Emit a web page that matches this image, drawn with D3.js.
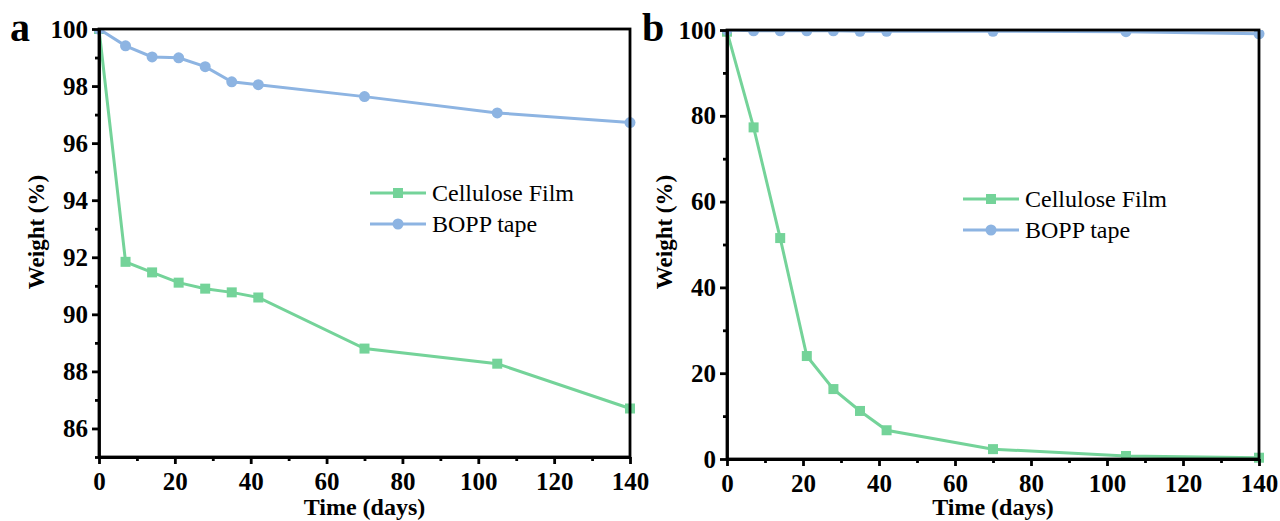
<!DOCTYPE html>
<html>
<head>
<meta charset="utf-8">
<script src="https://cdn.jsdelivr.net/npm/d3@7"></script>
<style>
  body { margin: 0; background: #fff; }
  text { font-family: "Liberation Serif", "Times New Roman", serif; }
</style>
</head>
<body>
<div id="chart"></div>
<script>
const canvas_w  =   1280;
const canvas_h  =   521;

// sampling days (shared by both panels)
const days          =   [ 0, 7, 14, 21, 28, 35, 42, 70, 105, 140 ];

// panel a values (weight %)
const a_cellulose   =   [ 100, 91.84, 91.47, 91.11, 90.90, 90.77, 90.59, 88.80, 88.27, 86.70 ];
const a_bopp        =   [ 100, 99.41, 99.02, 98.99, 98.68, 98.15, 98.05, 97.63, 97.06, 96.72 ];

// panel b values (weight %)
const b_cellulose   =   [ 99.6, 77.3, 51.5, 24.0, 16.3, 11.2, 6.7, 2.3, 0.7, 0.3 ];
const b_bopp        =   [ 100, 99.8, 99.8, 99.8, 99.8, 99.7, 99.7, 99.7, 99.6, 99.1 ];

const x_ticks       =   [ 0, 20, 40, 60, 80, 100, 120, 140 ];
const a_y_ticks     =   [ 86, 88, 90, 92, 94, 96, 98, 100 ];
const b_y_ticks     =   [ 0, 20, 40, 60, 80, 100 ];

const series_names  =   [ 'Cellulose Film', 'BOPP tape' ];
const green         =   '#74d399';
const blue          =   '#8db4e2';

let svg         =   d3.select( '#chart' )
                      .append( 'svg' )
                      .attr( 'width', canvas_w )
                      .attr( 'height', canvas_h );

function panel( opt ) {
    let x = d3.scaleLinear().domain( [ 0, 140 ] ).range( [ opt.left, opt.right ] );
    let y = d3.scaleLinear().domain( opt.ydomain ).range( [ opt.bottom, opt.top ] );

    let g = svg.append( 'g' );

    // clip for marks
    let clipId = 'clip-' + opt.letter;
    svg.append( 'clipPath' ).attr( 'id', clipId )
       .append( 'rect' )
       .attr( 'x', opt.left - 8 ).attr( 'y', opt.top )
       .attr( 'width', opt.right - opt.left + 16 ).attr( 'height', opt.bottom - opt.top + 8 );

    let marks = g.append( 'g' ).attr( 'clip-path', 'url(#' + clipId + ')' );

    let line = d3.line()
                 .x( (d, i) => x( days[i] ) )
                 .y( d => y( d ) );

    // cellulose (green squares)
    marks.append( 'path' )
         .attr( 'd', line( opt.cellulose ) )
         .attr( 'fill', 'none' )
         .attr( 'stroke', green )
         .attr( 'stroke-width', 3 );
    marks.selectAll( 'rect.sq' )
         .data( opt.cellulose )
         .enter()
         .append( 'rect' )
         .attr( 'x', (d, i) => x( days[i] ) - 5 )
         .attr( 'y', d => y( d ) - 5 )
         .attr( 'width', 10 ).attr( 'height', 10 )
         .attr( 'fill', green );

    // bopp (blue circles)
    marks.append( 'path' )
         .attr( 'd', line( opt.bopp ) )
         .attr( 'fill', 'none' )
         .attr( 'stroke', blue )
         .attr( 'stroke-width', 3 );
    marks.selectAll( 'circle' )
         .data( opt.bopp )
         .enter()
         .append( 'circle' )
         .attr( 'cx', (d, i) => x( days[i] ) )
         .attr( 'cy', d => y( d ) )
         .attr( 'r', 5.5 )
         .attr( 'fill', blue );

    // frame
    g.append( 'rect' )
     .attr( 'x', opt.left ).attr( 'y', opt.top )
     .attr( 'width', opt.right - opt.left ).attr( 'height', opt.bottom - opt.top )
     .attr( 'fill', 'none' )
     .attr( 'stroke', '#000' )
     .attr( 'stroke-width', 2.8 );

    // x axis
    let xAxis = g.append( 'g' )
                 .attr( 'transform', 'translate(0,' + opt.bottom + ')' )
                 .call( d3.axisBottom( x ).tickValues( x_ticks ).tickSize( 7 ).tickSizeOuter( 0 ) );
    g.append( 'g' )
     .attr( 'transform', 'translate(0,' + opt.bottom + ')' )
     .call( d3.axisBottom( x ).tickValues( d3.range( 10, 140, 20 ) ).tickSize( 4 ).tickSizeOuter( 0 ).tickFormat( '' ) )
     .call( s => s.select( '.domain' ).remove() );

    // y axis
    let yAxis = g.append( 'g' )
                 .attr( 'transform', 'translate(' + opt.left + ',0)' )
                 .call( d3.axisLeft( y ).tickValues( opt.yticks ).tickSize( 7 ).tickSizeOuter( 0 ) );
    g.append( 'g' )
     .attr( 'transform', 'translate(' + opt.left + ',0)' )
     .call( d3.axisLeft( y ).tickValues( opt.yminor ).tickSize( 4 ).tickSizeOuter( 0 ).tickFormat( '' ) )
     .call( s => s.select( '.domain' ).remove() );

    g.selectAll( '.domain' ).attr( 'stroke-width', 2.8 );
    g.selectAll( '.tick line' ).attr( 'stroke-width', 2.8 );
    xAxis.selectAll( 'text' )
         .attr( 'font-size', 25 ).attr( 'font-weight', 'bold' )
         .attr( 'font-family', '"Liberation Serif", serif' )
         .attr( 'dy', '0.9em' );
    yAxis.selectAll( 'text' )
         .attr( 'font-size', 25 ).attr( 'font-weight', 'bold' )
         .attr( 'font-family', '"Liberation Serif", serif' )
         .attr( 'x', -11 );

    // axis titles
    g.append( 'text' )
     .attr( 'x', ( opt.left + opt.right ) / 2 )
     .attr( 'y', 515 )
     .attr( 'text-anchor', 'middle' )
     .attr( 'font-size', 24 ).attr( 'font-weight', 'bold' )
     .text( 'Time (days)' );
    g.append( 'text' )
     .attr( 'transform', 'translate(' + opt.ylabelX + ',' + 232 + ') rotate(-90)' )
     .attr( 'text-anchor', 'middle' )
     .attr( 'font-size', 23 ).attr( 'font-weight', 'bold' )
     .text( 'Weight (%)' );

    // panel letter
    g.append( 'text' )
     .attr( 'x', opt.letterX ).attr( 'y', 41 )
     .attr( 'font-size', 40 ).attr( 'font-weight', 'bold' )
     .text( opt.letter );

    // legend
    let colors = [ green, blue ];
    series_names.forEach( function ( name, i ) {
        let ly = opt.legY + i * 31;
        g.append( 'line' )
         .attr( 'x1', opt.legX ).attr( 'x2', opt.legX + 56 )
         .attr( 'y1', ly ).attr( 'y2', ly )
         .attr( 'stroke', colors[i] ).attr( 'stroke-width', 3 );
        if ( i === 0 ) {
            g.append( 'rect' )
             .attr( 'x', opt.legX + 23 ).attr( 'y', ly - 5 )
             .attr( 'width', 10 ).attr( 'height', 10 )
             .attr( 'fill', green );
        } else {
            g.append( 'circle' )
             .attr( 'cx', opt.legX + 28 ).attr( 'cy', ly ).attr( 'r', 5.5 )
             .attr( 'fill', blue );
        }
        g.append( 'text' )
         .attr( 'x', opt.legX + 62 ).attr( 'y', ly + 8 )
         .attr( 'font-size', 24 )
         .text( name );
    } );
}

panel( {
    letter: 'a', letterX: 10, ylabelX: 44,
    left: 99, right: 630, top: 29, bottom: 457,
    ydomain: [ 85, 100 ], yticks: a_y_ticks, yminor: d3.range( 85, 100, 2 ),
    cellulose: a_cellulose, bopp: a_bopp,
    legX: 370, legY: 193
} );

panel( {
    letter: 'b', letterX: 642, ylabelX: 672,
    left: 727, right: 1259, top: 30, bottom: 459,
    ydomain: [ 0, 100 ], yticks: b_y_ticks, yminor: d3.range( 10, 100, 20 ),
    cellulose: b_cellulose, bopp: b_bopp,
    legX: 963, legY: 199
} );
</script>
</body>
</html>
